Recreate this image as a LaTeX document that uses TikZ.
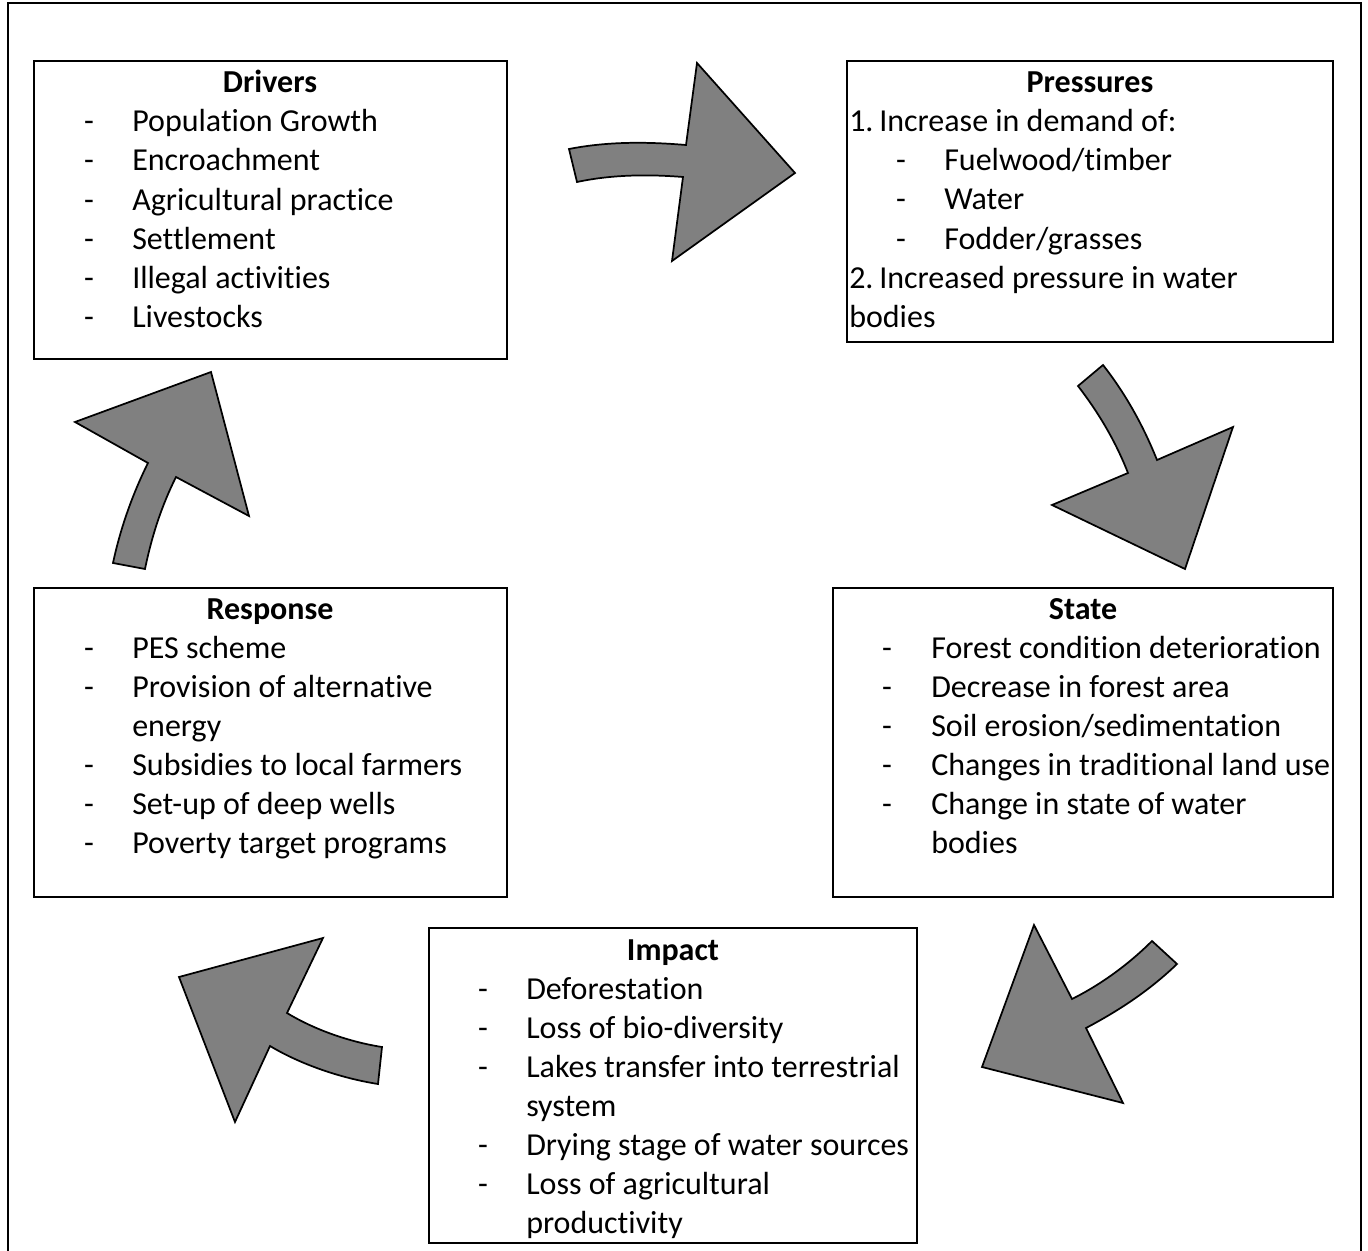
\documentclass[tikz,border=0pt]{standalone}
\usepackage{fontspec}
\setmainfont[Ligatures=NoCommon]{Carlito}
\begin{document}
\begin{tikzpicture}[x=0.75pt,y=-0.75pt,
  box/.style={draw=black,line width=1.1pt},
  bigarrow/.style={draw=black,line width=1.3pt,fill=black!50,line join=miter},
  txt/.style={anchor=base west,inner sep=0pt,font=\fontsize{24}{29}\selectfont},
  ttl/.style={anchor=base,inner sep=0pt,font=\fontsize{24}{29}\selectfont\bfseries},
  dsh/.style={anchor=base,inner sep=0pt,font=\fontsize{24}{29}\selectfont}]
\useasboundingbox (0,0) rectangle (1368,1251);
\fill[white] (0,0) rectangle (1368,1251);
\draw[box] (8,3) rectangle (1361,1270);
% boxes
\draw[box] (34,61) rectangle (507,359);
\draw[box] (847,61) rectangle (1333,342);
\draw[box] (34,588) rectangle (507,897);
\draw[box] (833,588) rectangle (1333,897);
\draw[box] (429,928) rectangle (917,1243);
% Drivers
\node[ttl] (dt) at (270,92.5) {Drivers};
\foreach \t [count=\i] in {Population Growth,Encroachment,Agricultural practice,Settlement,Illegal activities,Livestocks}{
  \node[dsh] (dd\i) at (89,92.5+39.2*\i) {-};
  \node[txt] (d\i) at (132,92.5+39.2*\i) {\t};
}
% Pressures
\node[ttl] (pt) at (1090,92.5) {Pressures};
\node[txt] (p1) at (849,131.5) {1.\hspace{0.18em}Increase in demand of:};
\foreach \t [count=\i] in {Fuelwood/timber,Water,Fodder/grasses}{
  \node[dsh] (pd\i) at (901,131.5+39.2*\i) {-};
  \node[txt] (pp\i) at (944,131.5+39.2*\i) {\t};
}
\node[txt] (p2) at (849,288.5) {2.\hspace{0.18em}Increased pressure in water};
\node[txt] (p3) at (849,327.5) {bodies};
% Response
\node[ttl] (rt) at (270,619.5) {Response};
\node[dsh] (rd1) at (89,658.5) {-}; \node[txt] (r1) at (132,658.5) {PES scheme};
\node[dsh] (rd2) at (89,697.5) {-}; \node[txt] (r2) at (132,697.5) {Provision of alternative};
\node[txt] (r3) at (132,736.5) {energy};
\node[dsh] (rd4) at (89,775.5) {-}; \node[txt] (r4) at (132,775.5) {Subsidies to local farmers};
\node[dsh] (rd5) at (89,814.5) {-}; \node[txt] (r5) at (132,814.5) {Set-up of deep wells};
\node[dsh] (rd6) at (89,853.5) {-}; \node[txt] (r6) at (132,853.5) {Poverty target programs};
% State
\node[ttl] (st) at (1083,619.5) {State};
\node[dsh] (sd1) at (887,658.5) {-}; \node[txt] (s1) at (931,658.5) {Forest condition deterioration};
\node[dsh] (sd2) at (887,697.5) {-}; \node[txt] (s2) at (931,697.5) {Decrease in forest area};
\node[dsh] (sd3) at (887,736.5) {-}; \node[txt] (s3) at (931,736.5) {Soil erosion/sedimentation};
\node[dsh] (sd4) at (887,775.5) {-}; \node[txt] (s4) at (931,775.5) {Changes in traditional land use};
\node[dsh] (sd5) at (887,814.5) {-}; \node[txt] (s5) at (931,814.5) {Change in state of water};
\node[txt] (s6) at (931,853.5) {bodies};
% Impact
\node[ttl] (it) at (673,960.5) {Impact};
\node[dsh] (id1) at (483,999.5) {-}; \node[txt] (i1) at (526,999.5) {Deforestation};
\node[dsh] (id2) at (483,1038.5) {-}; \node[txt] (i2) at (526,1038.5) {Loss of bio-diversity};
\node[dsh] (id3) at (483,1077.5) {-}; \node[txt] (i3) at (526,1077.5) {Lakes transfer into terrestrial};
\node[txt] (i4) at (526,1116.5) {system};
\node[dsh] (id5) at (483,1155.5) {-}; \node[txt] (i5) at (526,1155.5) {Drying stage of water sources};
\node[dsh] (id6) at (483,1194.5) {-}; \node[txt] (i6) at (526,1194.5) {Loss of agricultural};
\node[txt] (i7) at (526,1233.5) {productivity};
% arrows
\draw[bigarrow] (569,149) .. controls (610,141) and (650,142) .. (686,145) -- (697,63) -- (795,173) -- (672,261) -- (683,177) .. controls (645,174) and (610,175) .. (577,182) -- cycle;
\draw[bigarrow] (1078,386) -- (1103,365) .. controls (1125,393) and (1143,425) .. (1157,460) -- (1233,427) -- (1185,569) -- (1052,505) -- (1128,473) .. controls (1115,440) and (1098,412) .. (1078,386) -- cycle;
\draw[bigarrow] (1152,941) -- (1177,964) .. controls (1150,990) and (1120,1010) .. (1086,1028) -- (1123,1103) -- (982,1067) -- (1034,925) -- (1072,999) .. controls (1100,985) and (1128,965) .. (1152,941) -- cycle;
\draw[bigarrow] (382,1047) -- (378,1084) .. controls (340,1078) and (300,1064) .. (270,1046) -- (235,1122) -- (179,977) -- (323,938) -- (287,1013) .. controls (315,1030) and (350,1042) .. (382,1047) -- cycle;
\draw[bigarrow] (113,563) -- (145,569) .. controls (152,535) and (162,505) .. (176,477) -- (249,516) -- (211,372) -- (75,422) -- (148,463) .. controls (132,495) and (120,530) .. (113,563) -- cycle;
\end{tikzpicture}
\end{document}
